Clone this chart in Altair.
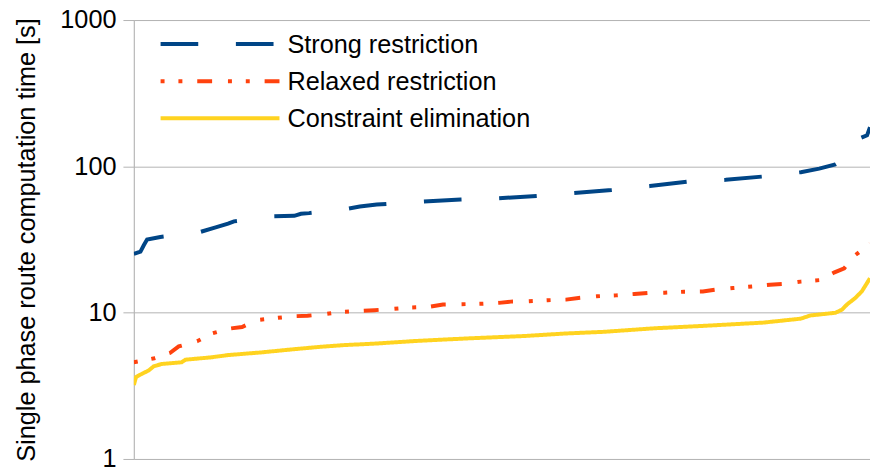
import altair as alt
import pandas as pd

series_names = ["Strong restriction", "Relaxed restriction", "Constraint elimination"]
series_colors = ["#004586", "#ff420e", "#ffd320"]
series_dashes = [[38, 38], [4, 14, 4, 15, 15, 16], [1, 0]]

strong_x = [0, 0.9, 1.35, 1.8, 3.6, 9.0, 11.0, 12.8, 13.6, 18.8, 21.8, 22.7, 23.8, 29.0, 30.7, 33.0,
            39.3, 44.4, 49.6, 54.7, 59.8, 64.9, 70.1, 75.1, 80.4, 85.4, 90.6, 93.1, 95.3, 96.9, 97.8,
            98.7, 99.6, 100]
strong_y = [25.2, 26.1, 28.9, 31.6, 32.9, 35.6, 38.1, 40.6, 42.1, 45.5, 45.9, 47.4, 47.9, 51.3, 53.1,
            54.8, 57.4, 59.3, 60.5, 62.8, 65.8, 68.9, 73.3, 78.4, 80.9, 85.2, 91.2, 96.5, 103.3, 115,
            135, 156, 163, 185]

relaxed_x = [0, 2.8, 4.9, 6.1, 8.6, 10.7, 13.0, 14.7, 16.7, 19.2, 21.8, 23.6, 25.9, 28.4, 31.0, 32.7,
             35.1, 37.7, 40.1, 42.0, 44.4, 47.0, 49.6, 51.2, 53.6, 56.2, 58.7, 60.4, 62.9, 65.5, 68.0,
             69.8, 72.1, 74.7, 77.3, 79.0, 81.4, 84.0, 86.4, 88.2, 90.6, 93.2, 95.1, 96.5, 97.9, 100]
relaxed_y = [4.58, 4.88, 5.3, 5.88, 6.38, 7.23, 7.78, 7.98, 8.9, 9.18, 9.46, 9.53, 9.77, 10.14, 10.3,
             10.4, 10.6, 10.85, 10.96, 11.36, 11.42, 11.49, 11.67, 11.9, 11.96, 12.16, 12.28, 12.6,
             12.94, 13.13, 13.42, 13.64, 13.7, 13.9, 13.97, 14.35, 14.74, 15.1, 15.52, 15.7, 16.3,
             16.7, 18.8, 20.1, 24.5, 29.5]

elim_x = [0, 0.3, 1.1, 2.0, 2.7, 3.8, 6.5, 7.0, 10.5, 12.8, 17.3, 21.8, 25.3, 28.5, 32.9, 38.4, 45.1,
          53.2, 58.5, 63.9, 70.7, 77.1, 85.5, 90.6, 91.9, 95.3, 96.2, 96.9, 98.0, 98.9, 100]
elim_y = [3.2, 3.63, 3.82, 4.02, 4.3, 4.46, 4.58, 4.77, 4.95, 5.13, 5.35, 5.63, 5.84, 6.0, 6.15, 6.41,
          6.66, 6.93, 7.2, 7.4, 7.82, 8.11, 8.55, 9.1, 9.57, 9.98, 10.5, 11.4, 12.6, 14.0, 17.2]

y_ticks = [1, 10, 100, 1000]

rows = []
for name, xs, ys in zip(series_names, [strong_x, relaxed_x, elim_x], [strong_y, relaxed_y, elim_y]):
    for i, (xv, yv) in enumerate(zip(xs, ys)):
        rows.append({"series": name, "rank": xv, "time": yv, "i": i})
df = pd.DataFrame(rows)
legend_df = pd.DataFrame({"series": series_names, "row": list(range(len(series_names)))})

font = "Liberation Sans"
grid = "#b3b3b3"
fs = 25.5

color_enc = alt.Color("series:N", scale=alt.Scale(domain=series_names, range=series_colors), legend=None)
dash_enc = alt.StrokeDash("series:N", scale=alt.Scale(domain=series_names, range=series_dashes), legend=None)

lines = alt.Chart(df).mark_line(strokeWidth=4, strokeCap="butt", clip=True).encode(
    x=alt.X("rank:Q", axis=None, scale=alt.Scale(domain=[0, 100], nice=False, zero=False)),
    y=alt.Y("time:Q",
            scale=alt.Scale(type="log", domain=[1, 1000], nice=False),
            axis=alt.Axis(values=y_ticks, format="d", title="Single phase route computation time [s]",
                          grid=True, gridColor=grid, gridWidth=1, domainColor=grid, tickColor=grid,
                          tickSize=11, labelPadding=7, labelFontSize=fs, labelFont=font,
                          labelColor="#000000", titleFont=font, titleFontSize=fs,
                          titleFontWeight="normal", titleColor="#000000", titlePadding=21)),
    color=color_enc,
    strokeDash=dash_enc,
    order="i:Q",
)

leg_y = alt.Y("row:Q", scale=alt.Scale(domain=[0, 2], range=[24.2, 99.2], nice=False, zero=False), axis=None)

leg_sym = alt.Chart(legend_df).mark_rule(strokeWidth=4, strokeCap="butt").encode(
    x=alt.value(27), x2=alt.value(147), y=leg_y, color=color_enc, strokeDash=dash_enc,
)
leg_txt = alt.Chart(legend_df).mark_text(align="left", baseline="middle", font=font, fontSize=fs,
                                         color="#000000", dy=1).encode(
    x=alt.value(155), y=leg_y, text="series:N",
)

chart = alt.layer(lines, leg_sym, leg_txt).resolve_scale(y="independent").properties(
    width=743, height=443,
    autosize=alt.AutoSizeParams(type="none"),
    padding={"left": 127, "top": 10, "right": 0, "bottom": 12},
).configure_view(stroke=None).configure(background="white")

chart.save("out.html", embed_options={"renderer": "svg", "actions": False})
